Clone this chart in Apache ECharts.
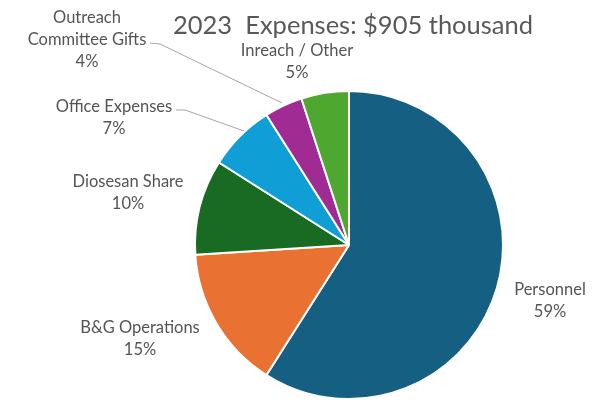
<!DOCTYPE html>
<html>
<head>
<meta charset="utf-8">
<script src="https://cdn.jsdelivr.net/npm/echarts@6/dist/echarts.min.js"></script>
<style>html,body{margin:0;padding:0;background:#fff}#c{width:609px;height:400px}</style>
</head>
<body>
<div id="c"></div>
<script>
const titleText = '2023  Expenses: $905 thousand';
const categories = ['Personnel', 'B&G Operations', 'Diosesan Share', 'Office Expenses', 'Outreach\nCommittee Gifts', 'Inreach / Other'];
const values = [59, 15, 10, 7, 4, 5];
const colors = ['#156082', '#E97132', '#196B24', '#0F9ED5', '#A02B93', '#4EA72E'];

// label anchor positions (layout only)
const labelPos = [
  {x: 550, y: 301},
  {x: 140, y: 339},
  {x: 128, y: 193},
  {x: 114, y: 118},
  {x: 87, y: 40},
  {x: 297, y: 62}
];
const showLine = [false, false, false, true, true, false];

const chart = echarts.init(document.getElementById('c'), null, {renderer: 'canvas'});
chart.setOption({
  backgroundColor: '#ffffff',
  animation: false,
  title: {
    text: titleText,
    left: 348, top: 8,
    textAlign: 'center',
    textStyle: {fontFamily: 'Lato', fontSize: 25.5, fontWeight: 'normal', color: '#595959'}
  },
  series: [{
    type: 'pie',
    center: [349, 245],
    radius: 154,
    startAngle: 90,
    clockwise: true,
    percentPrecision: 0,
    itemStyle: {borderColor: '#ffffff', borderWidth: 2},
    label: {
      show: true,
      formatter: '{b}\n{d}%',
      fontFamily: 'Lato',
      fontSize: 16.5,
      lineHeight: 22,
      color: '#555555',
      align: 'center',
      overflow: 'none'
    },
    labelLine: {show: true, lineStyle: {color: '#a6a6a6', width: 1}},
    labelLayout: function (p) {
      const i = p.dataIndex;
      const pos = labelPos[i];
      const out = {x: pos.x, y: pos.y, align: 'center', verticalAlign: 'middle'};
      if (i === 3) out.labelLinePoints = [[176, 110], [185, 110], [244, 131]];
      if (i === 4) out.labelLinePoints = [[150, 43], [160, 44], [282, 103]];
      return out;
    },
    data: categories.map((c, i) => ({
      name: c,
      value: values[i],
      itemStyle: {color: colors[i]},
      labelLine: {show: showLine[i]}
    }))
  }]
});
</script>
</body>
</html>
